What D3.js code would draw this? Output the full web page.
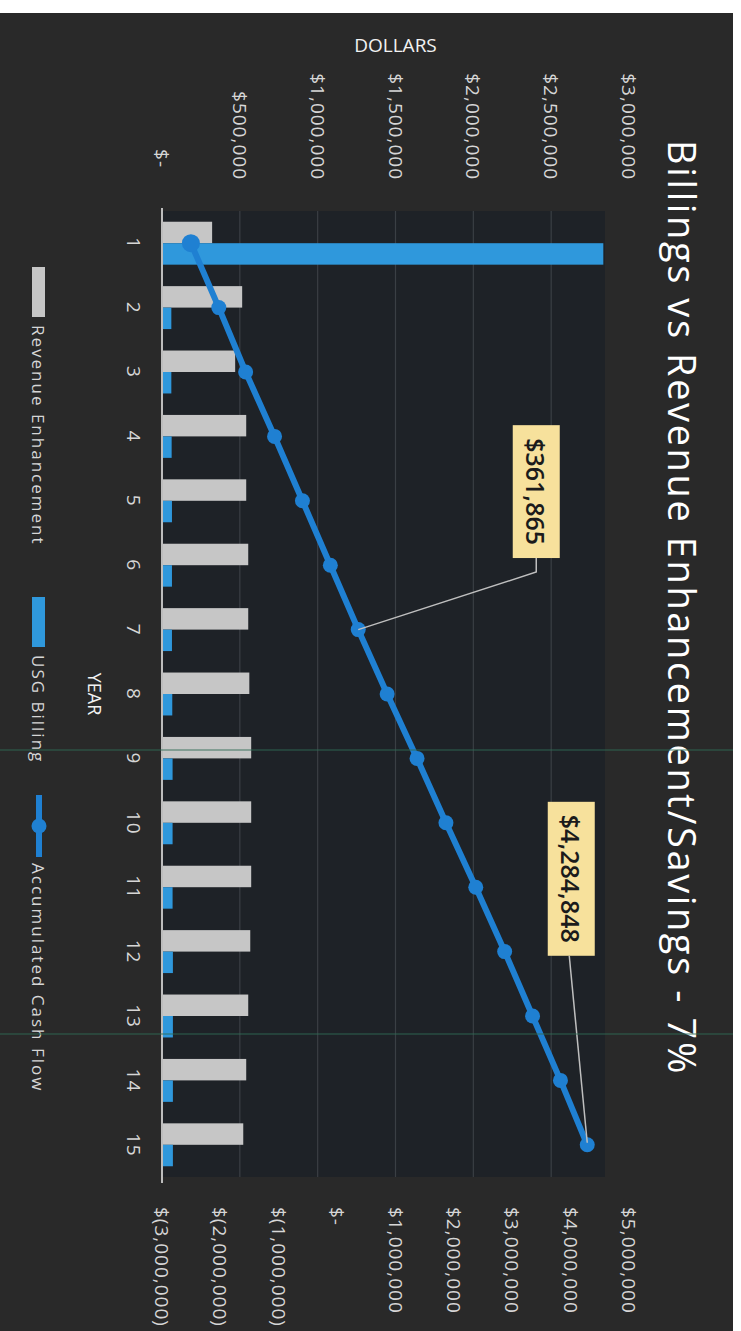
<!DOCTYPE html>
<html>
<head>
<meta charset="utf-8">
<script src="https://cdn.jsdelivr.net/npm/d3@7"></script>
<style>
  body, html { margin: 0; padding: 0; background: #fff; }
  svg { display: block; }
  text { font-family: "Open Sans", "Noto Sans", sans-serif; }
</style>
</head>
<body>
<script>

  // chart data
  var years = ['1','2','3','4','5','6','7','8','9','10','11','12','13','14','15'];
  var revenueEnhancement = [322000, 515000, 470000, 541000, 541000, 554000, 554000, 561000,
                            573000, 573000, 573000, 567000, 554000, 541000, 522000];
  var usgBilling = [2835000, 60000, 60000, 62000, 64000, 64000, 64000, 66000,
                    68000, 68000, 68000, 70000, 70000, 70000, 70000];
  var accumulatedCashFlow = [-2505000, -2027000, -1567000, -1072000, -594000, -116000, 361865,
                             857000, 1369000, 1864000, 2375000, 2870000, 3348000, 3826000, 4284848];
  var dollarTicks = [0, 500000, 1000000, 1500000, 2000000, 2500000, 3000000];
  var cashTicks = [-3000000, -2000000, -1000000, 0, 1000000, 2000000, 3000000, 4000000, 5000000];
  var labelledYears = ['7', '15'];
  var seriesNames = ['Revenue Enhancement', 'USG Billing', 'Accumulated Cash Flow'];

  var W = 741, H = 1331;
  var svg = d3.select('body').append('svg').attr('width', W).attr('height', H);
  svg.append('rect').attr('width', W).attr('height', H).attr('fill', '#ffffff');

  // the page was scanned sideways: draw the chart in its own frame and turn it 90deg
  var g = svg.append('g').attr('transform', 'translate(' + W + ',0) rotate(90)');
  // inside g: x runs down the page, y runs right-to-left

  g.append('rect')
    .attr('x', 13).attr('y', 8).attr('width', H - 13).attr('height', W - 8)
    .attr('fill', '#292929');

  var plot = {left: 211, right: 1177, top: 136, bottom: 579};

  var x = d3.scaleBand().domain(years).range([plot.left, plot.right]);
  var xs = d3.scaleBand().domain([0, 1]).range([0, x.bandwidth()]).paddingOuter(0.5);
  var y = d3.scaleLinear().domain([0, 3000000]).range([plot.bottom, 112]);
  var y2 = d3.scaleLinear().domain([-3000000, 5000000]).range([plot.bottom, 112]);

  var fmt = d3.format(',');
  function money(v) {
    if (v === 0) return '$-';
    return v < 0 ? '$(' + fmt(-v) + ')' : '$' + fmt(v);
  }

  // plot area
  g.append('rect')
    .attr('x', plot.left).attr('y', plot.top)
    .attr('width', plot.right - plot.left).attr('height', plot.bottom - plot.top)
    .attr('fill', '#1e2227');

  g.append('g').selectAll('line')
    .data(dollarTicks.filter(function (d) { return d > 0 && y(d) >= plot.top; }))
    .enter().append('line')
      .attr('x1', plot.left).attr('x2', plot.right)
      .attr('y1', function (d) { return y(d); })
      .attr('y2', function (d) { return y(d); })
      .attr('stroke', '#3a3f44').attr('stroke-width', 1.2);

  // bars
  g.append('g').selectAll('rect')
    .data(revenueEnhancement)
    .enter().append('rect')
      .attr('x', function (d, i) { return x(years[i]) + xs(0); })
      .attr('width', xs.bandwidth())
      .attr('y', function (d) { return y(d); })
      .attr('height', function (d) { return y(0) - y(d); })
      .attr('fill', '#c6c6c6');

  g.append('g').selectAll('rect')
    .data(usgBilling)
    .enter().append('rect')
      .attr('x', function (d, i) { return x(years[i]) + xs(1); })
      .attr('width', xs.bandwidth())
      .attr('y', function (d) { return y(d); })
      .attr('height', function (d) { return y(0) - y(d); })
      .attr('fill', '#2f98dc');

  // category axis line
  g.append('line')
    .attr('x1', plot.left - 3).attr('x2', plot.right + 6)
    .attr('y1', y(0)).attr('y2', y(0))
    .attr('stroke', '#bdbdbd').attr('stroke-width', 2);

  // accumulated cash flow line
  var line = d3.line()
    .x(function (d, i) { return x(years[i]) + x.bandwidth() / 2; })
    .y(function (d) { return y2(d); });

  g.append('path')
    .datum(accumulatedCashFlow)
    .attr('d', line)
    .attr('fill', 'none')
    .attr('stroke', '#1f80d2')
    .attr('stroke-width', 6)
    .attr('stroke-linejoin', 'round');

  g.append('g').selectAll('circle')
    .data(accumulatedCashFlow)
    .enter().append('circle')
      .attr('cx', function (d, i) { return x(years[i]) + x.bandwidth() / 2; })
      .attr('cy', function (d) { return y2(d); })
      .attr('r', function (d, i) { return i === 0 ? 9 : 7.5; })
      .attr('fill', '#1f80d2');

  // data labels with leader lines
  var labelOffset = {'7': {dx: -138, dy: -178}, '15': {dx: -266, dy: 16}};
  labelledYears.forEach(function (yr) {
    var i = years.indexOf(yr);
    var px = x(yr) + x.bandwidth() / 2, py = y2(accumulatedCashFlow[i]);
    var cx = px + labelOffset[yr].dx, cy = py + labelOffset[yr].dy;
    var lab = g.append('g');
    var t = lab.append('text')
      .attr('x', cx).attr('y', cy)
      .attr('text-anchor', 'middle')
      .attr('dominant-baseline', 'central')
      .attr('font-size', 25)
      .attr('font-weight', 600)
      .attr('fill', '#1b1b1b')
      .text(money(accumulatedCashFlow[i]));
    var bb = t.node().getBBox();
    lab.insert('rect', 'text')
      .attr('x', bb.x - 13).attr('y', cy - 23.5)
      .attr('width', bb.width + 26).attr('height', 47)
      .attr('fill', '#f7e19c');
    var ex = bb.x + bb.width + 13;
    var pts = yr === '7' ? [[ex, cy], [ex + 14, cy], [px, py]] : [[ex, cy + 2], [px - 2, py]];
    g.append('path')
      .attr('d', d3.line()(pts))
      .attr('fill', 'none')
      .attr('stroke', '#bfbfbf')
      .attr('stroke-width', 1.5);
  });

  // primary value axis (left in the chart's own frame)
  g.append('g').selectAll('text')
    .data(dollarTicks)
    .enter().append('text')
      .attr('x', function (d) { return d === 0 ? 168 : 180; })
      .attr('y', function (d) { return y(d); })
      .attr('text-anchor', 'end')
      .attr('dominant-baseline', 'central')
      .attr('font-size', 19)
      .attr('letter-spacing', 1)
      .attr('fill', '#d6d6d6')
      .text(money);

  // secondary value axis
  g.append('g').selectAll('text')
    .data(cashTicks)
    .enter().append('text')
      .attr('x', 1207)
      .attr('y', function (d) { return y2(d); })
      .attr('text-anchor', 'start')
      .attr('dominant-baseline', 'central')
      .attr('font-size', 19)
      .attr('letter-spacing', 1)
      .attr('fill', '#d6d6d6')
      .text(money);

  // category labels
  g.append('g').selectAll('text')
    .data(years)
    .enter().append('text')
      .attr('x', function (d) { return x(d) + x.bandwidth() / 2; })
      .attr('y', 614)
      .attr('text-anchor', 'middle')
      .attr('font-size', 19)
      .attr('letter-spacing', 1)
      .attr('fill', '#d6d6d6')
      .text(function (d) { return d; });

  // axis titles and chart title
  g.append('text')
    .attr('x', 45).attr('y', (y.range()[0] + y.range()[1]) / 2)
    .attr('transform', 'rotate(-90,45,' + ((y.range()[0] + y.range()[1]) / 2) + ')')
    .attr('text-anchor', 'middle').attr('dominant-baseline', 'central')
    .attr('font-size', 19).attr('fill', '#f2f2f2')
    .text('DOLLARS');

  g.append('text')
    .attr('x', (plot.left + plot.right) / 2).attr('y', 653)
    .attr('text-anchor', 'middle')
    .attr('font-size', 18).attr('fill', '#f2f2f2')
    .text('YEAR');

  g.append('text')
    .attr('x', 608).attr('y', 73)
    .attr('text-anchor', 'middle')
    .attr('font-size', 38).attr('letter-spacing', 2.6).attr('fill', '#ffffff')
    .text('Billings vs Revenue Enhancement/Savings - 7%');

  // legend
  var legendX = [267, 597, 795];
  var legend = g.append('g');
  legend.append('rect').attr('x', legendX[0]).attr('y', 696).attr('width', 50).attr('height', 13).attr('fill', '#c6c6c6');
  legend.append('rect').attr('x', legendX[1]).attr('y', 696).attr('width', 50).attr('height', 13).attr('fill', '#2f98dc');
  legend.append('line').attr('x1', legendX[2]).attr('x2', legendX[2] + 62).attr('y1', 702).attr('y2', 702)
    .attr('stroke', '#1f80d2').attr('stroke-width', 6);
  legend.append('circle').attr('cx', legendX[2] + 31).attr('cy', 702).attr('r', 7.5).attr('fill', '#1f80d2');
  legend.selectAll('text')
    .data(seriesNames)
    .enter().append('text')
      .attr('x', function (d, i) { return legendX[i] + (i === 2 ? 68 : 58); })
      .attr('y', 709)
      .attr('font-size', 17)
      .attr('letter-spacing', 2)
      .attr('fill', '#d6d6d6')
      .text(function (d) { return d; });

  // faint scanner streaks across the page
  g.append('g').selectAll('line')
    .data([750, 1034])
    .enter().append('line')
      .attr('x1', function (d) { return d; }).attr('x2', function (d) { return d; })
      .attr('y1', 8).attr('y2', W)
      .attr('stroke', '#2f6b55').attr('stroke-opacity', 0.6).attr('stroke-width', 1.5);

</script>
</body>
</html>
